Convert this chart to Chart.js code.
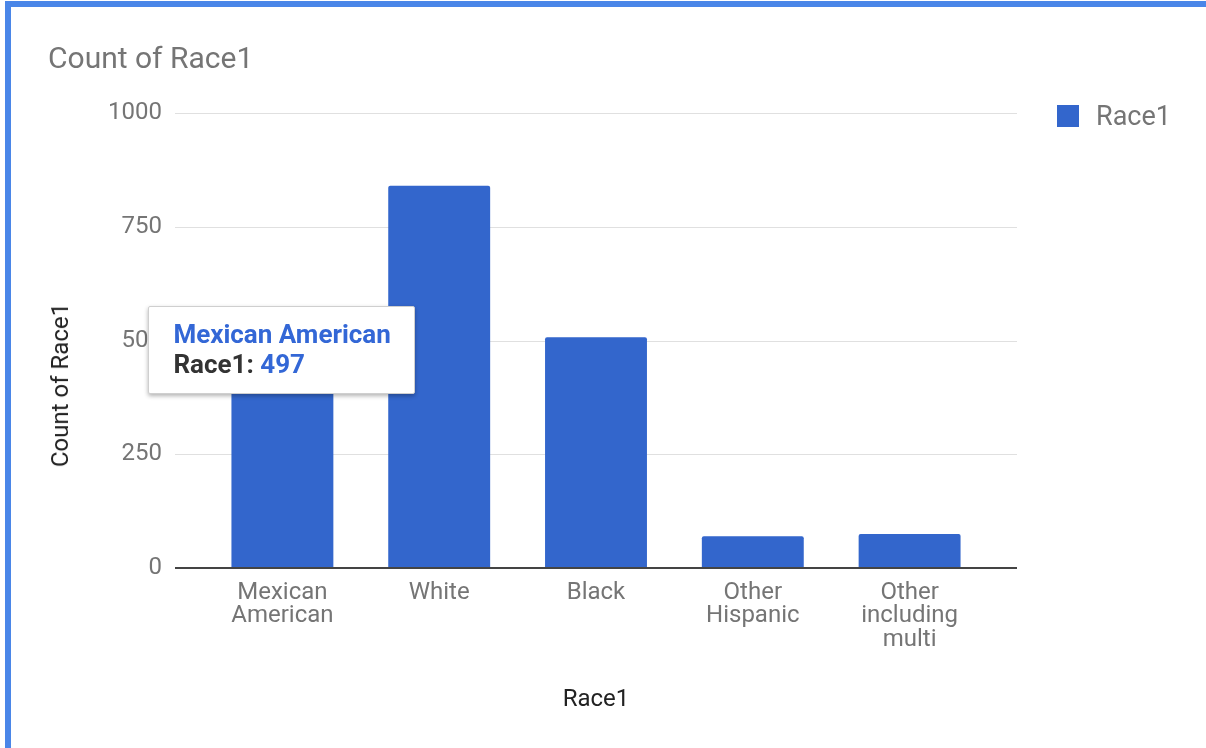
<!DOCTYPE html>
<html>
<head>
<meta charset="utf-8">
<script src="https://cdn.jsdelivr.net/npm/chart.js@4.4.1/dist/chart.umd.min.js"></script>
<style>
  body { margin: 0; background: #fff; font-family: Roboto, "Noto Sans", sans-serif; }
  #wrap { position: relative; width: 1206px; height: 748px; overflow: hidden; background: #fff; }
  #frame { position: absolute; left: 5px; top: 1px; right: 0; bottom: -10px;
           border-left: 6px solid #4a86e8; border-top: 6px solid #4a86e8; pointer-events: none; }
  #title { position: absolute; left: 48px; top: 43px; font-size: 30px; line-height: 30px; color: #757575; white-space: nowrap; }
  #ytitle { position: absolute; left: 60px; top: 385px; font-size: 24px; line-height: 24px; color: #222;
            white-space: nowrap; transform: translate(-50%, -50%) rotate(-90deg); }
  #legend { position: absolute; left: 1057px; top: 105px; height: 22px; display: flex; align-items: center; }
  #legend .box { width: 22px; height: 22px; background: #3366cc; }
  #legend .txt { margin-left: 17px; font-size: 27px; color: #757575; }
  #tip { position: absolute; background: #fff; border: 1px solid #cfcfcf; border-radius: 2px;
         box-shadow: 0 2px 4px rgba(0,0,0,0.3); padding: 12px 24px 14px 24px; width: 217px;
         font-weight: bold; font-size: 26px; line-height: 30px; white-space: nowrap; }
  #tip .t { color: #3367d6; }
  #tip .b { color: #333; }
  #tip .v { color: #3367d6; }
</style>
</head>
<body>
<div id="wrap">
  <canvas id="myChart" width="1206" height="748"></canvas>
  <div id="title">Count of Race1</div>
  <div id="ytitle">Count of Race1</div>
  <div id="legend"><div class="box"></div><div class="txt">Race1</div></div>
  <div id="tip" style="display:none"></div>
  <div id="frame"></div>
</div>
<script>
// data
const categories = ['Mexican American', 'White', 'Black', 'Other Hispanic', 'Other including multi'];
const tickLabels = [['Mexican', 'American'], ['White'], ['Black'], ['Other', 'Hispanic'], ['Other', 'including', 'multi']];
const counts = [497, 840, 507, 70, 75];
const yTicks = [0, 250, 500, 750, 1000];

Chart.defaults.font.family = 'Roboto';

// google style gridlines, a bit wider than the bar area
const gridPlugin = {
  id: 'gridPlugin',
  beforeDatasetsDraw(chart) {
    const {ctx, chartArea, scales: {y}} = chart;
    ctx.save();
    ctx.strokeStyle = '#e0e0e0';
    ctx.lineWidth = 1;
    yTicks.forEach(v => {
      if (v === 0) return;
      const py = Math.round(y.getPixelForValue(v)) + 0.5;
      ctx.beginPath();
      ctx.moveTo(chartArea.left - 29, py);
      ctx.lineTo(chartArea.right + 29, py);
      ctx.stroke();
    });
    ctx.restore();
  },
  afterDatasetsDraw(chart) {
    const {ctx, chartArea, scales: {y}} = chart;
    const py = y.getPixelForValue(0);
    ctx.save();
    ctx.strokeStyle = '#444';
    ctx.lineWidth = 2;
    ctx.beginPath();
    ctx.moveTo(chartArea.left - 29, py);
    ctx.lineTo(chartArea.right + 29, py);
    ctx.stroke();
    ctx.restore();
  }
};

function externalTip(context) {
  const tip = document.getElementById('tip');
  const model = context.tooltip;
  if (model.opacity === 0 || !model.dataPoints || !model.dataPoints.length) {
    tip.style.display = 'none';
    return;
  }
  const dp = model.dataPoints[0];
  tip.innerHTML = '<div class="t">' + categories[dp.dataIndex] + '</div>' +
    '<div><span class="b">' + dp.dataset.label + ': </span><span class="v">' + dp.formattedValue + '</span></div>';
  tip.style.display = 'block';
  tip.style.left = (model.caretX - 134) + 'px';
  tip.style.top = (model.caretY - 36) + 'px';
}

const data = {
  labels: categories,
  datasets: [{
    label: 'Race1',
    data: counts,
    backgroundColor: '#3366cc',
    borderRadius: {topLeft: 2, topRight: 2},
    barPercentage: 0.65,
    categoryPercentage: 1.0
  }]
};

const config = {
  type: 'bar',
  data,
  options: {
    responsive: false,
    animation: false,
    layout: { padding: { left: 0, right: 218, top: 113, bottom: 0 } },
    scales: {
      x: {
        grid: { display: false, drawTicks: false },
        border: { display: false },
        ticks: {
          padding: 13,
          color: '#757575',
          font: { size: 24, lineHeight: 0.98 },
          autoSkip: false,
          maxRotation: 0,
          callback: (val, i) => tickLabels[i]
        },
        title: {
          display: true,
          text: 'Race1',
          color: '#222',
          font: { size: 24 },
          padding: { top: 0, bottom: 34 }
        },
        afterFit(scale) { scale.height = 180; }
      },
      y: {
        min: 0,
        max: 1000,
        grid: { display: false, drawTicks: false },
        border: { display: false },
        ticks: {
          stepSize: 250,
          padding: 42,
          color: '#757575',
          font: { size: 24 },
          callback: v => String(v)
        },
        afterFit(scale) { scale.width = 204; }
      }
    },
    plugins: {
      legend: { display: false },
      title: { display: false },
      tooltip: { enabled: false, external: externalTip }
    }
  },
  plugins: [gridPlugin]
};

const myChart = new Chart(document.getElementById('myChart'), config);

// show the hover card on the first bar like in the screenshot
const bar0 = myChart.getDatasetMeta(0).data[0];
myChart.tooltip.setActiveElements([{datasetIndex: 0, index: 0}], {x: bar0.x, y: bar0.y});
myChart.update();
</script>
</body>
</html>
